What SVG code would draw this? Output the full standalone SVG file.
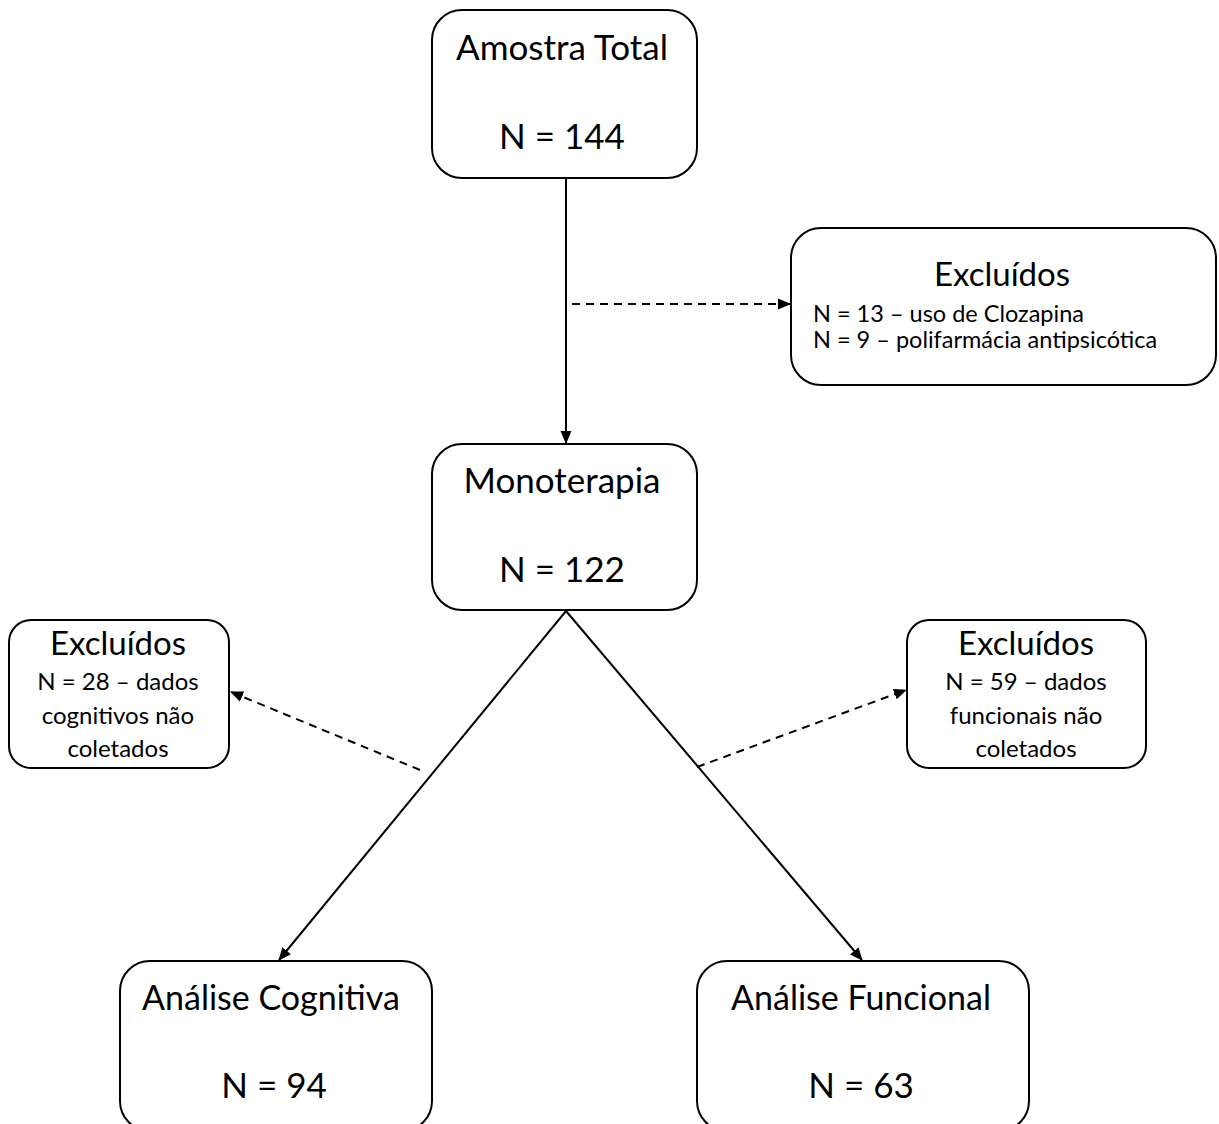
<svg xmlns="http://www.w3.org/2000/svg" width="1219" height="1124" viewBox="0 0 1219 1124">
<style>
.box{fill:#fff;stroke:#000;stroke-width:2}
.t{font-family:Lato,"Liberation Sans",sans-serif;fill:#000}
.big{font-size:35px}
.mid{font-size:33px}
.sm{font-size:23.5px}
.xs{font-size:24px}
.c{text-anchor:middle}
.ln{stroke:#000;stroke-width:2;fill:none}
.dash{stroke-dasharray:8,6}
</style>
<defs>
<marker id="ah" markerWidth="13" markerHeight="12" refX="12" refY="6" orient="auto" markerUnits="userSpaceOnUse" viewBox="0 0 13 12">
<path d="M0,0.5 L13,6 L0,11.5 z" fill="#000"/>
</marker>
</defs>
<g id="connectors">
<line class="ln" x1="566" y1="178" x2="566" y2="443" marker-end="url(#ah)"/>
<line class="ln dash" x1="572" y1="304" x2="790" y2="304" marker-end="url(#ah)"/>
<line class="ln" x1="566" y1="611" x2="279" y2="960" marker-end="url(#ah)"/>
<line class="ln" x1="566" y1="611" x2="862" y2="960" marker-end="url(#ah)"/>
<line class="ln dash" x1="420" y1="770" x2="231" y2="692" marker-end="url(#ah)"/>
<line class="ln dash" x1="697" y1="767" x2="906" y2="690" marker-end="url(#ah)"/>
</g>
<g id="amostra">
<rect class="box" x="432" y="10" width="265" height="168" rx="30"/>
<text class="t big c" x="562" y="60">Amostra Total</text>
<text class="t big c" x="562" y="149">N = 144</text>
</g>
<g id="excl1">
<rect class="box" x="791" y="228" width="425" height="157" rx="30"/>
<text class="t mid c" x="1002" y="286">Excluídos</text>
<text class="t sm" x="813" y="322">N = 13 – uso de Clozapina</text>
<text class="t sm" x="813" y="348">N = 9 – polifarmácia antipsicótica</text>
</g>
<g id="mono">
<rect class="box" x="432" y="444" width="265" height="166" rx="30"/>
<text class="t big c" x="562" y="493">Monoterapia</text>
<text class="t big c" x="562" y="582">N = 122</text>
</g>
<g id="excl2">
<rect class="box" x="9" y="620" width="220" height="148" rx="22"/>
<text class="t mid c" x="118" y="655">Excluídos</text>
<text class="t xs c" x="118" y="690">N = 28 – dados</text>
<text class="t xs c" x="118" y="724">cognitivos não</text>
<text class="t xs c" x="118" y="757">coletados</text>
</g>
<g id="excl3">
<rect class="box" x="907" y="620" width="239" height="148" rx="22"/>
<text class="t mid c" x="1026" y="655">Excluídos</text>
<text class="t xs c" x="1026" y="690">N = 59 – dados</text>
<text class="t xs c" x="1026" y="724">funcionais não</text>
<text class="t xs c" x="1026" y="757">coletados</text>
</g>
<g id="cognitiva">
<rect class="box" x="120" y="961" width="312" height="170" rx="30"/>
<text class="t big c" x="271" y="1010" style="font-size:34px">Análise Cognitiva</text>
<text class="t big c" x="274" y="1098">N = 94</text>
</g>
<g id="funcional">
<rect class="box" x="697" y="961" width="332" height="170" rx="30"/>
<text class="t big c" x="861" y="1010" style="font-size:34px">Análise Funcional</text>
<text class="t big c" x="861" y="1098">N = 63</text>
</g>
</svg>
